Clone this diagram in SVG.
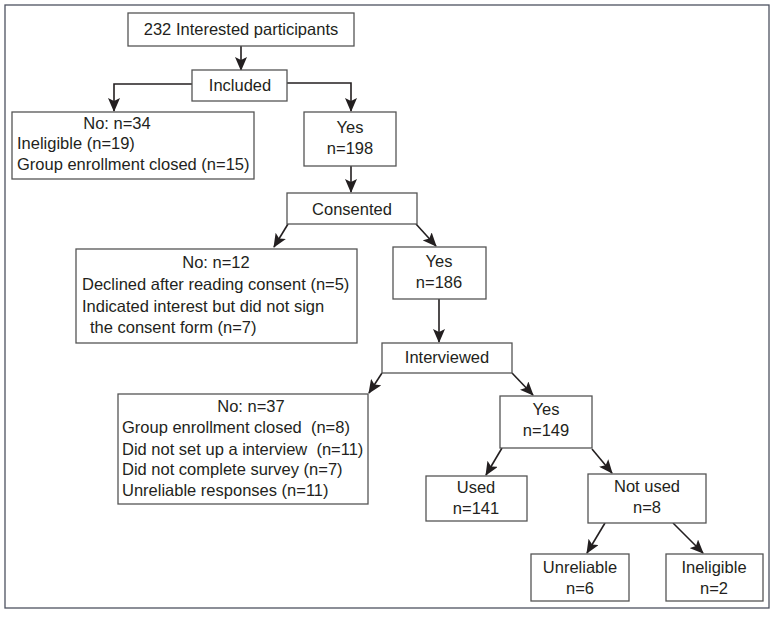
<svg xmlns="http://www.w3.org/2000/svg" width="775" height="623" viewBox="0 0 775 623">
<defs>
<style>
.box{fill:#fff;stroke:#555;stroke-width:1.3}
.t{font-family:"Liberation Sans",Arial,sans-serif;font-size:16.5px;fill:#231f20;white-space:pre}
.c{text-anchor:middle}
.con{fill:none;stroke:#231f20;stroke-width:1.6;marker-end:url(#ah)}
</style>
<marker id="ah" markerUnits="userSpaceOnUse" markerWidth="14" markerHeight="12" viewBox="0 0 14 12" refX="13" refY="6" orient="auto">
<path d="M0,0 L14,6 L0,12 L3,6 z" fill="#231f20"/>
</marker>
</defs>
<rect x="0" y="0" width="775" height="623" fill="#fff"/>
<rect x="5" y="5" width="764" height="603" fill="none" stroke="#4d5260" stroke-width="1.3"/>
<g id="connectors">
<path class="con" d="M241,46 V70"/>
<path class="con" d="M192,84 H114 V111"/>
<path class="con" d="M287,83 H351 V111"/>
<path class="con" d="M351,166 V192"/>
<path class="con" d="M288,224 L274,247"/>
<path class="con" d="M416,224 L436,246"/>
<path class="con" d="M439,299 V342"/>
<path class="con" d="M382,373 L369,393"/>
<path class="con" d="M512,373 L533,395"/>
<path class="con" d="M502,448 L486,475"/>
<path class="con" d="M592,449 L612,473"/>
<path class="con" d="M605,523 L587,553"/>
<path class="con" d="M673,523 L703,553"/>
</g>
<g id="n1"><rect class="box" x="128" y="13" width="226" height="33"/><text class="t c" x="241" y="35">232 Interested participants</text></g>
<g id="n2"><rect class="box" x="192" y="70" width="95" height="31"/><text class="t c" x="240" y="91">Included</text></g>
<g id="n3"><rect class="box" x="12" y="112" width="242" height="67"/><text class="t c" x="117" y="129">No: n=34</text><text class="t" x="17" y="149">Ineligible (n=19)</text><text class="t" x="17" y="170">Group enrollment closed (n=15)</text></g>
<g id="n4"><rect class="box" x="304" y="112" width="92" height="54"/><text class="t c" x="350" y="133">Yes</text><text class="t c" x="350" y="154">n=198</text></g>
<g id="n5"><rect class="box" x="287" y="193" width="130" height="31"/><text class="t c" x="352" y="215">Consented</text></g>
<g id="n6"><rect class="box" x="76" y="249" width="281" height="94"/><text class="t c" x="216" y="268">No: n=12</text><text class="t" x="82" y="290">Declined after reading consent (n=5)</text><text class="t" x="82" y="312">Indicated interest but did not sign</text><text class="t" x="90" y="333">the consent form (n=7)</text></g>
<g id="n7"><rect class="box" x="393" y="247" width="93" height="52"/><text class="t c" x="439" y="267">Yes</text><text class="t c" x="439" y="288">n=186</text></g>
<g id="n8"><rect class="box" x="382" y="343" width="130" height="30"/><text class="t c" x="447" y="363">Interviewed</text></g>
<g id="n9"><rect class="box" x="118" y="394" width="250" height="110"/><text class="t c" x="251" y="412">No: n=37</text><text class="t" x="122" y="433">Group enrollment closed  (n=8)</text><text class="t" x="122" y="455">Did not set up a interview  (n=11)</text><text class="t" x="122" y="475">Did not complete survey (n=7)</text><text class="t" x="122" y="496">Unreliable responses (n=11)</text></g>
<g id="n10"><rect class="box" x="500" y="396" width="92" height="52"/><text class="t c" x="546" y="415">Yes</text><text class="t c" x="546" y="436">n=149</text></g>
<g id="n11"><rect class="box" x="426" y="476" width="101" height="45"/><text class="t c" x="476" y="493">Used</text><text class="t c" x="476" y="514">n=141</text></g>
<g id="n12"><rect class="box" x="588" y="474" width="118" height="49"/><text class="t c" x="647" y="492">Not used</text><text class="t c" x="647" y="513">n=8</text></g>
<g id="n13"><rect class="box" x="531" y="554" width="98" height="47"/><text class="t c" x="580" y="573">Unreliable</text><text class="t c" x="580" y="594">n=6</text></g>
<g id="n14"><rect class="box" x="666" y="554" width="97" height="47"/><text class="t c" x="714" y="573">Ineligible</text><text class="t c" x="714" y="594">n=2</text></g>
</svg>
